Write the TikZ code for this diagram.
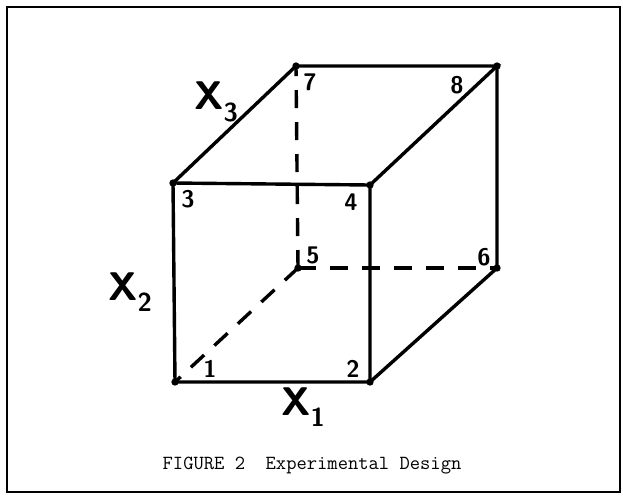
\documentclass[tikz,border=0pt]{standalone}
\usepackage{tikz}
\usetikzlibrary{positioning,calc}
\tikzset{
  v/.style={circle,fill=black,inner sep=2.6pt},
  edge/.style={draw=black,line width=3.4pt,line cap=round},
  hidden/.style={draw=black,line width=3.4pt,dash pattern=on 18pt off 14pt},
  num/.style={font=\sffamily\bfseries\fontsize{24}{24}\selectfont,inner sep=0pt},
  axis/.style={font=\sffamily\bfseries\fontsize{40}{40}\selectfont,inner sep=0pt},
}
\newcommand{\axsub}[1]{\raisebox{-0.28em}{\fontsize{26}{26}\selectfont #1}}

\begin{document}
\begin{tikzpicture}[x=1pt,y=-1pt]
\useasboundingbox (0,0) rectangle (623,499);
\draw[line width=1.8pt] (7,7) rectangle (620,492);
\node[v](v1) at (175,382){};\node[v](v2) at (370,382){};\node[v](v3) at (173,183){};\node[v](v4) at (370,185){};
\node[v](v5) at (298,268){};\node[v](v6) at (497,268){};\node[v](v7) at (296,66){};\node[v](v8) at (497,66){};
\draw[edge] (v1.center)--(v2.center)--(v4.center)--(v3.center)--cycle;
\draw[edge] (v3.center)--(v7.center)--(v8.center)--(v4.center);\draw[edge] (v8.center)--(v6.center)--(v2.center);
\draw[hidden] (v5.center)--(v1.center);\draw[hidden] (v5.center)--(v6.center);\draw[hidden] (v5.center)--(v7.center);
\node[num](n1) at (210,369){1};\node[num](n2) at (353,369){2};\node[num](n3) at (188,199){3};\node[num](n4) at (351,202){4};
\node[num](n5) at (313,255){5};\node[num](n6) at (484,257){6};\node[num](n7) at (310,82){7};\node[num](n8) at (457,85){8};
\node[axis](x3) at (216,102){X\axsub{3}};\node[axis](x2) at (130,292){X\axsub{2}};\node[axis](x1) at (303,407){X\axsub{1}};
\node[font=\ttfamily\fontsize{20}{24}\selectfont](cap) at (312,466){FIGURE 2\ \ Experimental Design};
\end{tikzpicture}
\end{document}
